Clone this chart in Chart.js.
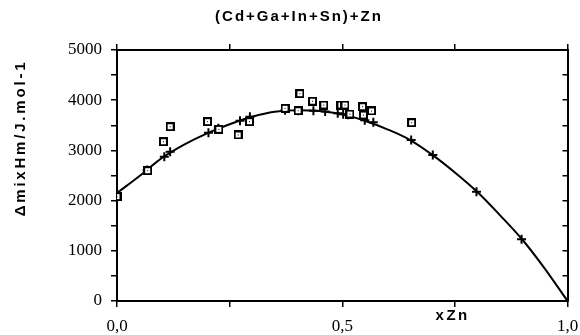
<!DOCTYPE html>
<html>
<head>
<meta charset="utf-8">
<script src="https://cdn.jsdelivr.net/npm/chart.js@4.4.1/dist/chart.umd.min.js"></script>
<style>
  body { margin: 0; background: #fff; }
  #wrap { width: 580px; height: 335px; }
</style>
</head>
<body>
<div id="wrap"><canvas id="chart"></canvas></div>
<script>
// fitted curve
const curveX = [0, 0.05, 0.1, 0.15, 0.2, 0.25, 0.3, 0.35, 0.4, 0.45, 0.5,
  0.55, 0.6, 0.65, 0.7, 0.75, 0.8, 0.85, 0.9, 0.95, 1.0];
const curveY = [2150, 2490, 2850, 3120, 3340, 3520, 3670, 3770, 3800, 3785, 3720,
  3590, 3420, 3210, 2910, 2560, 2170, 1710, 1220, 640, 0];

// "+" markers on the curve
const crossX = [0.067, 0.105, 0.118, 0.203, 0.225, 0.273, 0.295, 0.373, 0.402,
  0.436, 0.462, 0.49, 0.502, 0.513, 0.55, 0.569, 0.653, 0.701, 0.798, 0.898];
const crossY = [2610, 2875, 2974, 3353, 3440, 3592, 3671, 3800, 3790,
  3790, 3775, 3740, 3720, 3710, 3600, 3560, 3207, 2908, 2177, 1229];

// square markers (experimental points)
const squareX = [0.0, 0.068, 0.103, 0.118, 0.201, 0.226, 0.269, 0.294, 0.373, 0.402,
  0.406, 0.434, 0.459, 0.497, 0.506, 0.517, 0.545, 0.547, 0.565, 0.654];
const squareY = [2080, 2596, 3173, 3472, 3572, 3420, 3307, 3572, 3838, 3790,
  4130, 3980, 3904, 3904, 3904, 3725, 3870, 3705, 3785, 3552];

const xTicks = [0, 0.5, 1.0];
const yTicks = [0, 1000, 2000, 3000, 4000, 5000];

const titleText = "(Cd+Ga+In+Sn)+Zn";
const yTitle = "\u0394mixHm/J.mol-1";
const xTitle = "xZn";

function toPoints(xs, ys) {
  return xs.map((x, i) => ({ x: x, y: ys[i] }));
}

function squareMarker() {
  const c = document.createElement("canvas");
  c.width = 9;
  c.height = 9;
  const g = c.getContext("2d");
  g.fillStyle = "#000";
  g.fillRect(0, 0, 9, 9);
  g.fillStyle = "#fff";
  g.fillRect(2, 2, 5, 5);
  g.fillStyle = "#000";
  g.fillRect(4, 4, 1, 1);
  return c;
}

const isTick = (list, v) => list.some((t) => Math.abs(t - v) < 1e-9);

// fixed axis sizes, and no extra room for overflowing end labels
function fixSize(prop, size) {
  return (scale) => {
    scale[prop] = size;
    scale.paddingLeft = 0;
    scale.paddingRight = 0;
    scale.paddingTop = 0;
    scale.paddingBottom = 0;
  };
}

const textPlugin = {
  id: "texts",
  afterDraw(chart) {
    const ctx = chart.ctx;
    const xs = chart.scales.x;
    ctx.save();
    ctx.fillStyle = "#000";
    ctx.textAlign = "center";
    ctx.textBaseline = "middle";
    ctx.font = "bold 15px 'Liberation Sans', Arial, sans-serif";
    ctx.letterSpacing = "2px";
    ctx.fillText(titleText, 299, 17);

    ctx.letterSpacing = "2.5px";
    ctx.fillText(xTitle, xs.getPixelForValue(0.745), 316);

    ctx.translate(21, 138);
    ctx.rotate(-Math.PI / 2);
    ctx.letterSpacing = "2.8px";
    ctx.fillText(yTitle, 0, 0);
    ctx.restore();
  },
};

const tickFont = { family: "'Liberation Serif', 'Times New Roman', serif", size: 17 };
const axisGrid = { drawOnChartArea: false, color: "#000", lineWidth: 1.5, tickLength: 6 };
const axisBorder = { color: "#000", width: 2 };

new Chart(document.getElementById("chart"), {
  type: "scatter",
  data: {
    datasets: [
      {
        data: toPoints(squareX, squareY),
        pointStyle: squareMarker(),
        order: 0,
      },
      {
        data: toPoints(crossX, crossY),
        pointStyle: "cross",
        pointRadius: 4.5,
        pointBorderWidth: 2,
        borderColor: "#000",
        order: 1,
      },
      {
        data: toPoints(curveX, curveY),
        showLine: true,
        borderColor: "#000",
        borderWidth: 2,
        pointRadius: 0,
        cubicInterpolationMode: "monotone",
        order: 2,
      },
    ],
  },
  options: {
    responsive: true,
    maintainAspectRatio: false,
    animation: false,
    layout: { padding: 0 },
    plugins: {
      legend: { display: false },
      tooltip: { enabled: false },
    },
    scales: {
      x: {
        type: "linear",
        position: "bottom",
        min: 0,
        max: 1,
        grid: axisGrid,
        border: axisBorder,
        ticks: {
          stepSize: 0.25,
          color: "#000",
          font: tickFont,
          padding: 9,
          maxRotation: 0,
          autoSkip: false,
          callback: (v) => (isTick(xTicks, v) ? v.toFixed(1).replace(".", ",") : ""),
        },
        afterFit: fixSize("height", 34),
      },
      x2: {
        type: "linear",
        position: "top",
        min: 0,
        max: 1,
        grid: axisGrid,
        border: axisBorder,
        ticks: { stepSize: 0.25, display: false },
        afterFit: fixSize("height", 50),
      },
      y: {
        type: "linear",
        position: "left",
        min: 0,
        max: 5000,
        grid: axisGrid,
        border: axisBorder,
        ticks: {
          stepSize: 500,
          color: "#000",
          font: tickFont,
          padding: 9,
          autoSkip: false,
          callback: (v) => (isTick(yTicks, v) ? String(v) : ""),
        },
        afterFit: fixSize("width", 117),
      },
      y2: {
        type: "linear",
        position: "right",
        min: 0,
        max: 5000,
        grid: { drawOnChartArea: false, color: "#000", lineWidth: 1.5, tickLength: -5 },
        border: axisBorder,
        ticks: { stepSize: 500, display: false },
        afterFit: fixSize("width", 12.5),
      },
    },
  },
  plugins: [textPlugin],
});
</script>
</body>
</html>
